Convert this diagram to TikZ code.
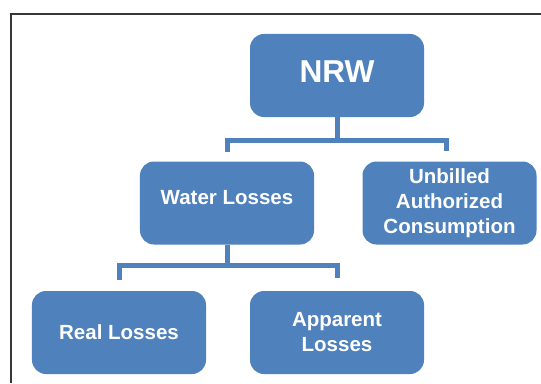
\documentclass[tikz,border=0pt]{standalone}
\usepackage{fontspec}
\setmainfont{Liberation Sans}
\usetikzlibrary{positioning}
\definecolor{OfficeBlue}{RGB}{79, 129, 189}
\definecolor{FrameGray}{RGB}{55, 55, 55}

\begin{document}
\begin{tikzpicture}[
    x=0.03cm, y=0.03cm,
    box/.style={rectangle, fill=OfficeBlue, text=white, minimum width=5.22cm, minimum height=2.49cm, inner sep=0pt, align=center, font=\fontsize{17.5}{21.3}\selectfont\bfseries, rounded corners=0.42cm},
    link/.style={draw=OfficeBlue, line width=0.15cm}
]
\useasboundingbox (0,0) rectangle (541,383);

% Frame
\draw[FrameGray, line width=0.05cm] (11,0) -- (11,369) -- (541,369);

% Boxes
\node[box, font=\fontsize{27}{30}\selectfont\bfseries, text depth=6pt] (nrw) at (337,307.5) {NRW};
\node[box, text depth=10pt] (water) at (227,180) {Water Losses};
\node[box] (unbilled) at (449.5,180) {Unbilled\\Authorized\\Consumption};
\node[box] (real) at (119,50.5) {Real Losses};
\node[box] (apparent) at (337,50.5) {Apparent\\Losses};

% Brackets
\draw[link] (nrw.south) -- ++(0,-23) coordinate (nrwjoin);
\draw[link] ([shift={(0,9)}]water.north) |- (nrwjoin) -| ([shift={(-3.5,10)}]unbilled.north);
\draw[link] (water.south) -- ++(0,-20.5) coordinate (waterjoin);
\draw[link] ([shift={(0,11)}]real.north) |- (waterjoin) -| ([shift={(0,13)}]apparent.north);

\end{tikzpicture}
\end{document}
